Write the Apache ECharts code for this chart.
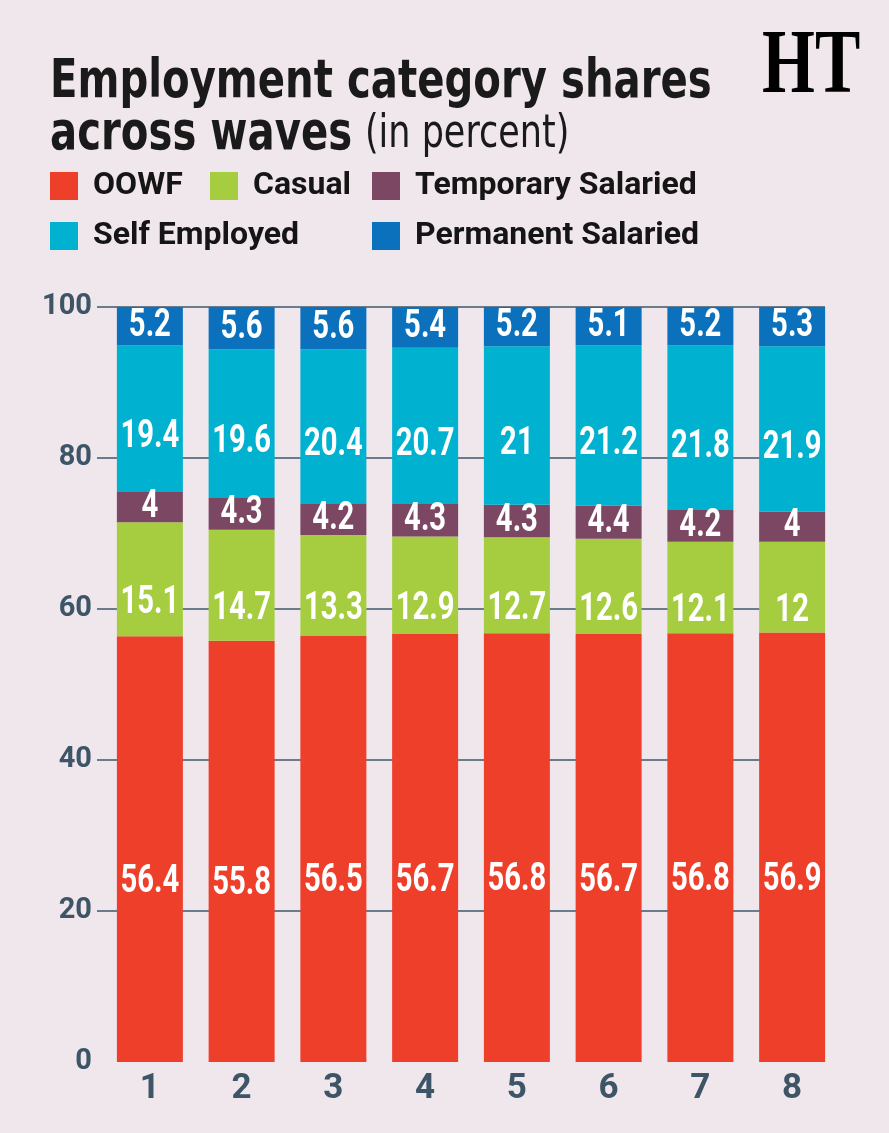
<!DOCTYPE html>
<html>
<head>
<meta charset="utf-8">
<script src="https://cdn.jsdelivr.net/npm/echarts@6/dist/echarts.min.js"></script>
<style>
  html, body { margin: 0; padding: 0; background: #f0e7ed; }
  #main { width: 889px; height: 1133px; }
</style>
</head>
<body>
<div id="main"></div>
<script>
var waves = ['1', '2', '3', '4', '5', '6', '7', '8'];
var oowf = [56.4, 55.8, 56.5, 56.7, 56.8, 56.7, 56.8, 56.9];
var casual = [15.1, 14.7, 13.3, 12.9, 12.7, 12.6, 12.1, 12];
var tempSal = [4, 4.3, 4.2, 4.3, 4.3, 4.4, 4.2, 4];
var selfEmp = [19.4, 19.6, 20.4, 20.7, 21, 21.2, 21.8, 21.9];
var permSal = [5.2, 5.6, 5.6, 5.4, 5.2, 5.1, 5.2, 5.3];
var yTicks = [0, 20, 40, 60, 80, 100];

var FONT = '"DejaVu Sans", sans-serif';
var AXFONT = 'Roboto, "Liberation Sans", sans-serif';
var SLATE = '#3d5567';
var GRIDC = '#6a7c8b';

var colors = {
    'OOWF': '#ee3f2b',
    'Casual': '#a6cd40',
    'Temporary Salaried': '#7b4763',
    'Self Employed': '#00b1d0',
    'Permanent Salaried': '#0b71bc'
};

function makeLegend(name, left, top) {
    return {
        data: [name],
        left: left,
        top: top,
        padding: 0,
        itemWidth: 28,
        itemHeight: 28,
        icon: 'rect',
        selectedMode: false,
        textStyle: {
            fontFamily: AXFONT,
            fontWeight: 'bold',
            fontSize: 32,
            lineHeight: 28,
            color: '#151515',
            padding: [0, 0, 0, 10]
        }
    };
}

function makeSeries(name, data) {
    return {
        name: name,
        type: 'bar',
        stack: 'all',
        xAxisIndex: 0,
        yAxisIndex: 0,
        barWidth: 66,
        data: data,
        itemStyle: { color: colors[name] }
    };
}

// value labels, placed at the middle of each stacked segment
var stackOrder = [oowf, casual, tempSal, selfEmp, permSal];
var labelShift = [33, 24, 0, 19, 0];
function labelSeries(k) {
    var pts = [];
    for (var i = 0; i < waves.length; i++) {
        var base = 0;
        for (var j = 0; j < k; j++) base += stackOrder[j][i];
        pts.push([i, base + stackOrder[k][i] / 2, stackOrder[k][i]]);
    }
    return {
        type: 'custom',
        xAxisIndex: 0,
        yAxisIndex: 0,
        clip: false,
        z: 5,
        silent: true,
        data: pts,
        renderItem: function (params, api) {
            var p = api.coord([api.value(0), api.value(1)]);
            return {
                type: 'text',
                x: p[0],
                y: p[1] + labelShift[k],
                scaleX: 0.75,
                style: {
                    text: String(api.value(2)),
                    fontFamily: AXFONT,
                    fontWeight: 'bold',
                    fontSize: 39,
                    fill: '#ffffff',
                    align: 'center',
                    verticalAlign: 'middle'
                }
            };
        }
    };
}

var chart = echarts.init(document.getElementById('main'), null, { renderer: 'canvas' });

var option = {
    backgroundColor: '#f0e7ed',
    animation: false,
    legend: [
        makeLegend('OOWF', 50, 170),
        makeLegend('Casual', 210, 170),
        makeLegend('Temporary Salaried', 372, 170),
        makeLegend('Self Employed', 50, 220),
        makeLegend('Permanent Salaried', 372, 220)
    ],
    graphic: [{
        type: 'text',
        x: 50,
        y: 56,
        scaleX: 0.745,
        style: {
            text: 'Employment category shares',
            fontFamily: FONT,
            fontWeight: 'bold',
            fontSize: 54,
            fill: '#1a1a1a',
            verticalAlign: 'top'
        }
    }, {
        type: 'text',
        x: 50,
        y: 108,
        scaleX: 0.745,
        style: {
            text: '{b|across waves} {r|(in percent)}',
            fontFamily: FONT,
            fontSize: 54,
            fill: '#1a1a1a',
            verticalAlign: 'top',
            rich: {
                b: { fontFamily: FONT, fontWeight: 'bold', fontSize: 54, fill: '#1a1a1a' },
                r: { fontFamily: FONT, fontWeight: 'normal', fontSize: 47, fill: '#1a1a1a' }
            }
        }
    }, {
        type: 'text',
        left: 762,
        top: 22,
        scaleX: 0.85,
        scaleY: 1.15,
        style: {
            text: 'HT',
            fontFamily: '"Liberation Serif", "DejaVu Serif", serif',
            fontWeight: 'bold',
            fontSize: 80,
            fill: '#000000'
        }
    }],
    grid: [
        { left: 104, right: 51, top: 307, bottom: 71 },
        { left: 97, right: 64, top: 307, bottom: 71 }
    ],
    xAxis: [{
        type: 'category',
        gridIndex: 0,
        data: waves,
        axisLine: { show: false },
        axisTick: { show: false },
        axisLabel: {
            margin: 10,
            color: SLATE,
            fontFamily: AXFONT,
            fontWeight: 'bold',
            fontSize: 35
        }
    }, {
        type: 'value',
        gridIndex: 1,
        show: false
    }],
    yAxis: [{
        type: 'value',
        gridIndex: 0,
        min: 0,
        max: 100,
        interval: 20,
        show: false,
        splitLine: { show: false }
    }, {
        type: 'value',
        gridIndex: 1,
        min: 0,
        max: 100,
        interval: 20,
        axisLine: { show: false },
        axisTick: { show: false },
        axisLabel: {
            margin: 5,
            color: SLATE,
            fontFamily: AXFONT,
            fontWeight: 'bold',
            fontSize: 29,
            customValues: yTicks
        },
        splitLine: {
            show: true,
            lineStyle: {
                width: 2,
                color: ['rgba(0,0,0,0)', GRIDC, GRIDC, GRIDC, GRIDC, GRIDC]
            }
        }
    }],
    series: [
        makeSeries('OOWF', oowf),
        makeSeries('Casual', casual),
        makeSeries('Temporary Salaried', tempSal),
        makeSeries('Self Employed', selfEmp),
        makeSeries('Permanent Salaried', permSal),
        labelSeries(0),
        labelSeries(1),
        labelSeries(2),
        labelSeries(3),
        labelSeries(4)
    ]
};

chart.setOption(option);
</script>
</body>
</html>
